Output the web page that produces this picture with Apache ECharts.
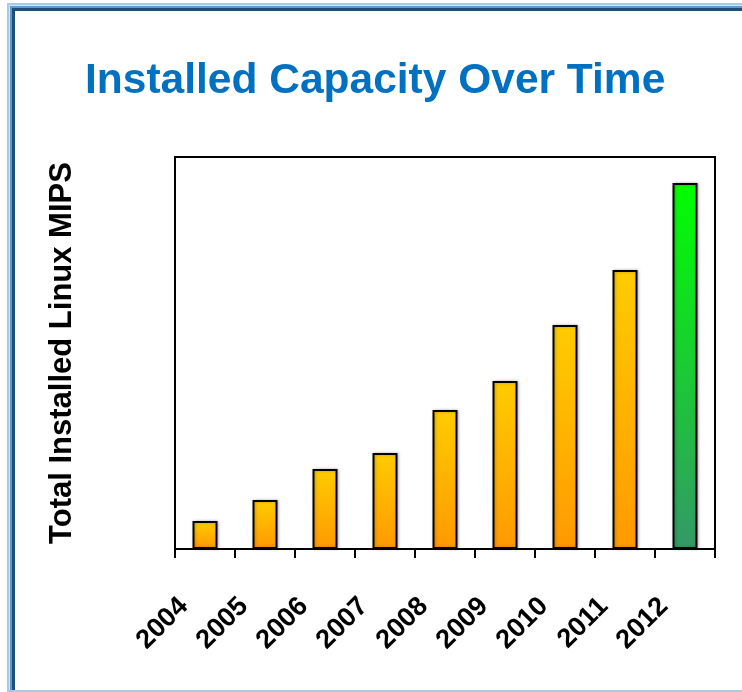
<!DOCTYPE html>
<html>
<head>
<meta charset="utf-8">
<script src="https://cdn.jsdelivr.net/npm/echarts@6/dist/echarts.min.js"></script>
<style>
  html, body { margin: 0; padding: 0; background: #fff; }
  #chart { width: 742px; height: 692px; }
</style>
</head>
<body>
<div id="chart"></div>
<script>
// values (arbitrary units, no y scale shown)
var years = ['2004', '2005', '2006', '2007', '2008', '2009', '2010', '2011', '2012'];
var mips = [28, 49, 80, 96, 139, 168, 224, 279, 366];
var yMax = 392;

var orangeFill = new echarts.graphic.LinearGradient(0, 0, 0, 1, [
  {offset: 0, color: '#ffcc00'},
  {offset: 1, color: '#ff9900'}
]);
var greenFill = new echarts.graphic.LinearGradient(0, 0, 0, 1, [
  {offset: 0, color: '#00ff00'},
  {offset: 1, color: '#339966'}
]);

var barData = mips.map(function (v, i) {
  return {
    value: v,
    itemStyle: {color: i === mips.length - 1 ? greenFill : orangeFill}
  };
});

var myChart = echarts.init(document.getElementById('chart'));

myChart.setOption({
  backgroundColor: '#fff',
  animation: false,
  graphic: [
    // blue slide frame
    {type: 'rect', z: -10, shape: {x: 7, y: 3, width: 760, height: 689}, style: {fill: '#a7c9ea'}},
    {type: 'rect', z: -9, shape: {x: 9, y: 5, width: 760, height: 685}, style: {fill: '#d6e6f5'}},
    {type: 'rect', z: -8, shape: {x: 10, y: 6, width: 760, height: 684}, style: {fill: '#5b9bd5'}},
    {type: 'rect', z: -7, shape: {x: 12, y: 8, width: 760, height: 682}, style: {fill: '#1f4e79'}},
    {type: 'rect', z: -6, shape: {x: 15, y: 11, width: 760, height: 679}, style: {fill: '#ffffff'}}
  ],
  title: {
    text: 'Installed Capacity Over Time',
    left: 80,
    top: 55,
    textStyle: {
      color: '#0070c0',
      fontFamily: 'Liberation Sans',
      fontWeight: 'bold',
      fontSize: 42.5
    }
  },
  grid: {
    left: 175,
    right: 27,
    top: 157,
    bottom: 143,
    show: true,
    borderColor: '#000',
    borderWidth: 2,
    backgroundColor: 'transparent'
  },
  xAxis: {
    type: 'category',
    data: years,
    boundaryGap: true,
    axisLine: {lineStyle: {color: '#000', width: 2}},
    axisTick: {show: true, length: 9, lineStyle: {color: '#000', width: 2}},
    axisLabel: {
      rotate: 45,
      margin: 32,
      padding: [0, 30, 0, 0],
      color: '#000',
      fontFamily: 'Liberation Sans',
      fontWeight: 'bold',
      fontSize: 27,
      interval: 0
    }
  },
  yAxis: {
    type: 'value',
    min: 0,
    max: yMax,
    name: 'Total Installed Linux MIPS',
    nameLocation: 'middle',
    nameRotate: 90,
    nameGap: 97,
    nameTextStyle: {
      color: '#000',
      fontFamily: 'Liberation Sans',
      fontWeight: 'bold',
      fontSize: 31
    },
    axisLine: {show: true, lineStyle: {color: '#000', width: 2}},
    axisTick: {show: false},
    axisLabel: {show: false},
    splitLine: {show: false}
  },
  series: [
    {
      type: 'bar',
      data: barData,
      barWidth: 25,
      itemStyle: {
        borderColor: '#000',
        borderWidth: 2,
        shadowColor: 'rgba(0,0,0,0.25)',
        shadowBlur: 3,
        shadowOffsetX: 1
      }
    }
  ]
});
</script>
</body>
</html>
